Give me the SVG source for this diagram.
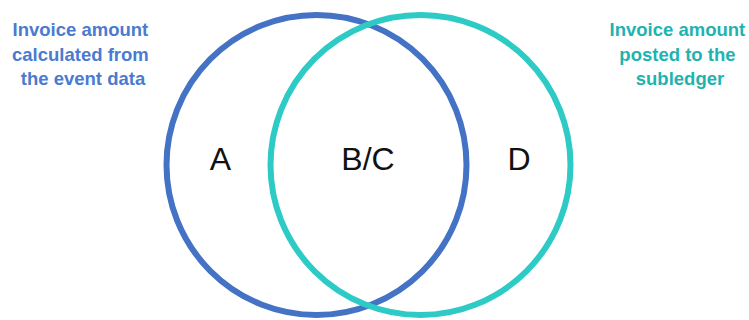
<svg xmlns="http://www.w3.org/2000/svg" width="749" height="320" viewBox="0 0 749 320">
  <style>
    .ring { fill: none; stroke-width: 6; }
    .region { font-family: "Liberation Sans", Arial, sans-serif; font-size: 32px; fill: #111; text-anchor: middle; }
    .caption { font-family: "Liberation Sans", Arial, sans-serif; font-size: 18.5px; font-weight: bold; text-anchor: middle; }
  </style>
  <rect width="749" height="320" fill="#ffffff"/>
  <g id="set-event">
    <circle class="ring" cx="316.5" cy="165" r="150" stroke="#4472C4"/>
    <text class="caption" x="83" y="36" fill="#4A7BD0">
      <tspan x="83" y="36">Invoice amount</tspan>
      <tspan x="83" y="61">calculated from</tspan>
      <tspan x="83" y="85">the event data</tspan>
    </text>
  </g>
  <g id="set-subledger">
    <circle class="ring" cx="420.5" cy="165" r="150" stroke="#2ECBC6"/>
    <text class="caption" x="680" y="36" fill="#1FB3B0">
      <tspan x="680" y="36">Invoice amount</tspan>
      <tspan x="680" y="61">posted to the</tspan>
      <tspan x="680" y="85">subledger</tspan>
    </text>
  </g>
  <g id="labels">
    <text class="region" x="220.5" y="169.5">A</text>
    <text class="region" x="368" y="169.5">B/C</text>
    <text class="region" x="519" y="169.5">D</text>
  </g>
</svg>
